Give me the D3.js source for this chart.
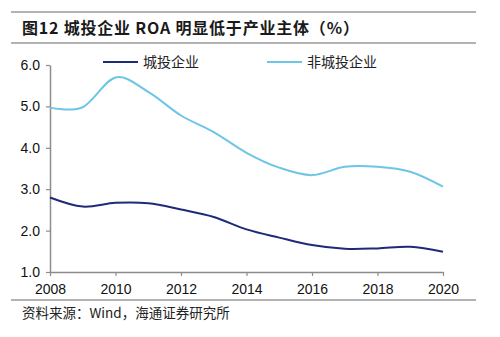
<!DOCTYPE html>
<html>
<head>
<meta charset="utf-8">
<script src="https://cdn.jsdelivr.net/npm/d3@7"></script>
<style>
  body { margin: 0; background: #fff; }
  text { font-family: "Liberation Sans", Arial, sans-serif; }
  .cjk { font-family: "Noto Sans CJK SC", sans-serif; }
</style>
</head>
<body>
<div id="chart"></div>
<script>
// ROA by year, %
var years = [2008, 2009, 2010, 2011, 2012, 2013, 2014, 2015, 2016, 2017, 2018, 2019, 2020];
var lgfvRoa = [2.80, 2.58, 2.67, 2.66, 2.51, 2.33, 2.03, 1.83, 1.65, 1.56, 1.57, 1.61, 1.49];
var otherRoa = [4.97, 4.98, 5.70, 5.35, 4.78, 4.38, 3.88, 3.52, 3.34, 3.54, 3.54, 3.42, 3.06];
var seriesNames = ["城投企业", "非城投企业"];
var xTicks = [2008, 2010, 2012, 2014, 2016, 2018, 2020];
var yTicks = [1, 2, 3, 4, 5, 6];

var W = 500, H = 337;
var margin = {top: 65, right: 57, bottom: 65, left: 50},
    width = W - margin.left - margin.right,
    height = H - margin.top - margin.bottom;

var svg = d3.select("#chart")
  .append("svg")
    .attr("width", W)
    .attr("height", H);

// header and footer rules
var ruleColor = "#9a9a9a";
[12, 43, 300].forEach(function(y) {
  svg.append("line")
    .attr("x1", 11).attr("x2", 476)
    .attr("y1", y).attr("y2", y)
    .attr("stroke", ruleColor)
    .attr("stroke-width", 1.5);
});

svg.append("text")
  .attr("class", "cjk")
  .attr("x", 22)
  .attr("y", 33.5)
  .style("font-size", "16px")
  .style("font-weight", "bold")
  .style("letter-spacing", "0.8px")
  .attr("fill", "#1a1a1a")
  .text("图12 城投企业 ROA 明显低于产业主体（%）");

svg.append("text")
  .attr("class", "cjk")
  .attr("x", 22)
  .attr("y", 318)
  .style("font-size", "13.5px")
  .attr("fill", "#222")
  .text("资料来源：Wind，海通证券研究所");

var g = svg.append("g")
  .attr("transform", "translate(" + margin.left + "," + margin.top + ")");

var x = d3.scaleLinear()
  .domain([2008, 2020])
  .range([0, width]);

var y = d3.scaleLinear()
  .domain([1, 6])
  .range([height, 0]);

// X axis
var xAxis = g.append("g")
  .attr("transform", "translate(0," + height + ")")
  .call(d3.axisBottom(x).tickValues(xTicks).tickFormat(d3.format("d")).tickSize(4).tickSizeOuter(0));
xAxis.selectAll("text")
  .attr("dy", "1.05em")
  .style("font-size", "14px")
  .attr("fill", "#111");

// Y axis
var yAxis = g.append("g")
  .call(d3.axisLeft(y).tickValues(yTicks).tickFormat(d3.format(".1f")).tickSize(4).tickSizeOuter(0));
yAxis.selectAll("text")
  .attr("x", -10)
  .style("font-size", "14px")
  .attr("fill", "#111");

[xAxis, yAxis].forEach(function(ax) {
  ax.select(".domain").attr("stroke", "#8c8c8c").attr("stroke-width", 1.5);
  ax.selectAll(".tick line").attr("stroke", "#8c8c8c").attr("stroke-width", 1.2);
});

var line = d3.line()
  .x(function(d) { return x(d[0]); })
  .y(function(d) { return y(d[1]); })
  .curve(d3.curveCardinal.tension(0));

var colors = ["#1f2a78", "#6ec6e6"];
var series = [lgfvRoa, otherRoa];

series.forEach(function(vals, i) {
  g.append("path")
    .datum(years.map(function(yr, j) { return [yr, vals[j]]; }))
    .attr("fill", "none")
    .attr("stroke", colors[i])
    .attr("stroke-width", 2)
    .attr("d", line);
});

// legend
var legendX = [103, 267];
seriesNames.forEach(function(name, i) {
  svg.append("line")
    .attr("x1", legendX[i]).attr("x2", legendX[i] + 35)
    .attr("y1", 62).attr("y2", 62)
    .attr("stroke", colors[i])
    .attr("stroke-width", 2);
  svg.append("text")
    .attr("class", "cjk")
    .attr("x", legendX[i] + 40)
    .attr("y", 67)
    .style("font-size", "14px")
    .attr("fill", "#222")
    .text(name);
});
</script>
</body>
</html>
